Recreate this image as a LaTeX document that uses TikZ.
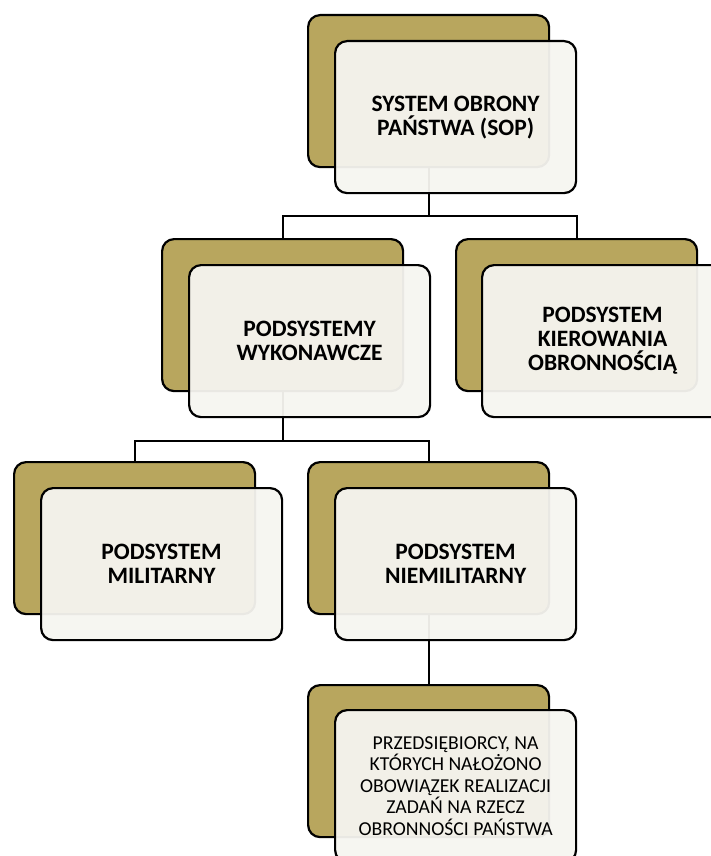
\documentclass[tikz,border=0pt]{standalone}
\usepackage{fontspec}
\setmainfont{Carlito}
\definecolor{gold}{HTML}{B8A65E}
\definecolor{paper}{HTML}{F6F5F0}
\begin{document}
\begin{tikzpicture}[x=1pt,y=-1pt,
  backbox/.style={draw=black, line width=2.2pt, fill=gold, rounded corners=12pt,
    minimum width=241pt, minimum height=152pt, anchor=north west, inner sep=0pt},
  frontbox/.style={draw=black, line width=2.2pt, fill=paper, fill opacity=0.95,
    text opacity=1, rounded corners=12pt, minimum width=241pt, minimum height=152pt,
    anchor=north west, align=center, inner sep=0pt,
    font=\fontsize{23.5}{24}\selectfont\bfseries},
  plainfront/.style={frontbox, font=\fontsize{19.7}{21.5}\selectfont},
  link/.style={draw=black, line width=2.2pt}]
\useasboundingbox (0,0) rectangle (711,856);
\clip (0,0) rectangle (711,856);
% back boxes
\node[backbox] (b1) at (307,14) {};
\node[backbox] (b2) at (161,238) {};
\node[backbox] (b3) at (455,238) {};
\node[backbox] (b4) at (13,461) {};
\node[backbox] (b5) at (307,461) {};
\node[backbox] (b6) at (307,684) {};
% connectors
\draw[link] (b1.south) -- ++(0,48) coordinate (j1) -| (b2.north);
\draw[link] (j1) -| (b3.north);
\draw[link] (b2.south) -- ++(0,49) coordinate (j2) -| (b4.north);
\draw[link] (j2) -| (b5.north);
\draw[link] (b5.south) -- (b6.north);
% front boxes
\node[frontbox] (f1) at (334,40) {SYSTEM OBRONY\\PAŃSTWA (SOP)};
\node[frontbox] (f2) at (188,264) {PODSYSTEMY\\WYKONAWCZE};
\node[frontbox] (f3) at (481,264) {PODSYSTEM\\KIEROWANIA\\OBRONNOŚCIĄ};
\node[frontbox] (f4) at (40,487) {PODSYSTEM\\MILITARNY};
\node[frontbox] (f5) at (334,487) {PODSYSTEM\\NIEMILITARNY};
\node[plainfront] (f6) at (334,709) {PRZEDSIĘBIORCY, NA\\KTÓRYCH NAŁOŻONO\\OBOWIĄZEK REALIZACJI\\ZADAŃ NA RZECZ\\OBRONNOŚCI PAŃSTWA};
\end{tikzpicture}
\end{document}
